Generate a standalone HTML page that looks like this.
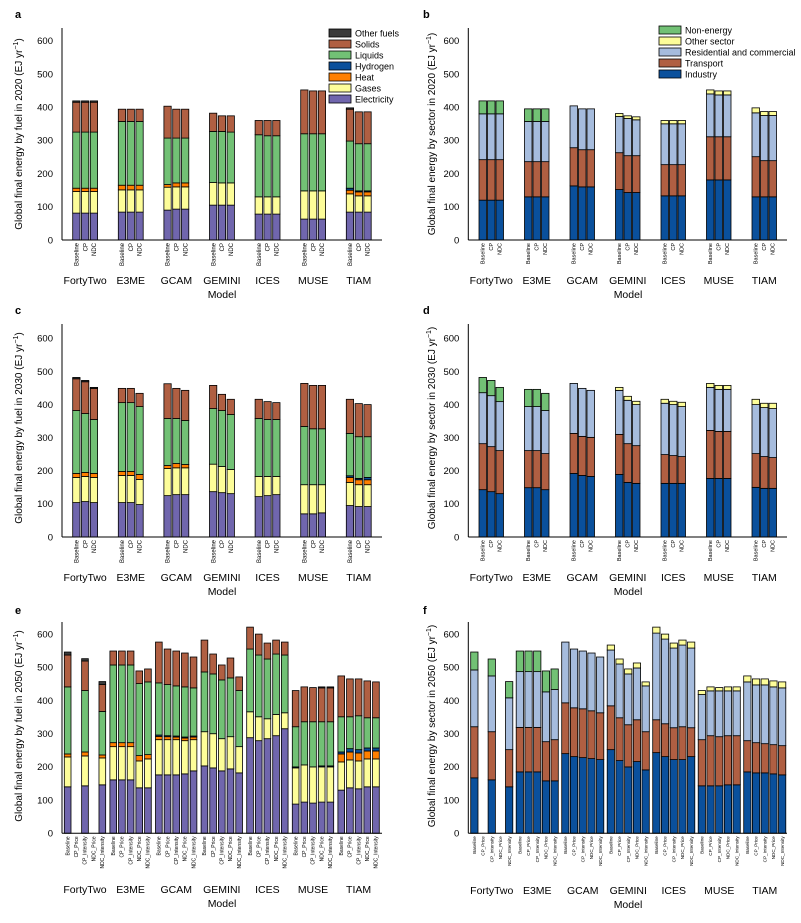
<!DOCTYPE html>
<html><head><meta charset="utf-8">
<style>
html,body{margin:0;padding:0;background:#fff;}
svg{display:block;font-family:"Liberation Sans",Arial,sans-serif;}
</style></head>
<body>
<svg id="chart" width="801" height="923" viewBox="0 0 801 923" xmlns="http://www.w3.org/2000/svg"></svg>
<script>
// ---------- DATA (cumulative stack tops in EJ/yr; null = segment absent) ----------
const models = ["FortyTwo","E3ME","GCAM","GEMINI","ICES","MUSE","TIAM"];
const scen3 = ["Baseline","CP","NDC"];
const scen5 = ["Baseline","CP_Price","CP_Intensity","NDC_Price","NDC_Intensity"];
const yTicks = [0,100,200,300,400,500,600];
const fuelNames = ["Electricity","Gases","Heat","Hydrogen","Liquids","Solids","Other fuels"];
const sectorNames = ["Industry","Transport","Residential and commercial","Other sector","Non-energy"];

// Panel a: fuel 2020
const aElec  = [81,81,81, 84,84,84, 90,93,93, 105,105,105, 78,78,78, 63,63,63, 84,84,84];
const aGas   = [146,146,146, 151,151,151, 159,160,160, 173,172,172, 130,130,130, 148,148,148, 139,133,133];
const aHeat  = [156,156,156, 165,165,165, 167,172,172, null,null,null, null,null,null, null,null,null, 150,145,145];
const aHyd   = [null,null,null, null,null,null, null,null,null, null,null,null, null,null,null, null,null,null, 156,148,148];
const aLiq   = [325,325,325, 357,357,357, 307,307,307, 327,327,325, 317,314,314, 320,320,320, 298,290,290];
const aSol   = [415,415,415, 394,394,394, 403,394,394, 382,374,374, 360,360,360, 452,449,449, 394,386,386];
const aOther = [419,419,419, null,null,null, null,null,null, null,null,null, null,null,null, null,null,null, 398,null,null];

// Panel b: sector 2020
const bInd   = [120,120,120, 130,130,130, 163,160,160, 152,143,143, 133,133,133, 181,181,181, 130,130,130];
const bTrans = [242,242,242, 236,236,236, 278,272,272, 263,254,254, 227,227,227, 311,311,311, 251,239,239];
const bRes   = [380,380,380, 357,357,357, 404,395,395, 372,366,362, 350,350,350, 440,437,437, 383,375,375];
const bOth   = [null,null,null, null,null,null, null,null,null, 381,374,371, 360,360,360, 452,449,449, 398,387,387];
const bNon   = [419,419,419, 395,395,395, null,null,null, null,null,null, null,null,null, null,null,null, null,null,null];

// Panel c: fuel 2030
const cElec  = [104,107,104, 104,104,98, 125,128,128, 137,134,131, 122,125,128, 70,70,73, 95,92,92];
const cGas   = [180,183,180, 186,186,174, 207,209,209, 220,213,204, 183,183,183, 158,158,158, 165,158,158];
const cHeat  = [192,195,192, 198,198,189, 216,222,219, null,null,null, null,null,null, null,null,null, 180,173,173];
const cHyd   = [null,null,null, null,null,null, null,null,null, null,null,null, null,null,null, null,null,null, 185,177,180];
const cLiq   = [382,373,355, 406,406,394, 358,358,352, 388,382,370, 358,355,355, 334,327,327, 313,303,303];
const cSol   = [478,469,449, 449,449,434, 463,449,443, 458,431,416, 416,409,406, 464,458,458, 416,403,400];
const cOther = [482,473,452, null,null,null, null,null,null, null,null,null, null,null,null, null,null,null, null,null,null];

// Panel d: sector 2030
const dInd   = [143,137,131, 149,149,143, 192,186,183, 189,165,162, 162,162,162, 177,177,177, 150,147,147];
const dTrans = [282,273,261, 261,261,252, 313,304,301, 310,282,276, 249,246,243, 322,319,319, 252,243,240];
const dRes   = [436,427,409, 394,394,382, 464,449,443, 443,413,400, 404,400,394, 452,446,446, 400,391,388];
const dOth   = [null,null,null, null,null,null, null,null,null, 452,425,410, 416,410,407, 464,458,458, 416,404,404];
const dNon   = [482,473,452, 446,446,434, null,null,null, null,null,null, null,null,null, null,null,null, null,null,null];

// Panel e: fuel 2050 (5 scenarios per model)
const eElec  = [140,null,143,null,146, 161,161,161,137,137, 176,176,176,179,188, 203,197,188,194,182, 288,279,285,294,315, 88,94,91,94,94, 130,137,134,140,140];
const eGas   = [230,null,233,null,227, 261,261,261,218,224, 282,282,282,279,282, 306,300,285,291,261, 366,351,345,358,363, 197,206,200,200,200, 215,221,218,224,224];
const eHeat  = [239,null,245,null,236, 273,273,273,234,237, 292,291,290,287,290, null,null,null,null,null, null,null,null,null,null, null,null,null,null,null, 239,245,242,248,248];
const eHyd   = [null,null,null,null,null, null,null,null,null,null, 296,294,293,290,293, null,null,null,null,null, null,null,null,null,null, 200,null,null,203,203, 245,255,252,257,257];
const eLiq   = [441,null,430,null,367, 507,507,507,451,456, 453,448,444,441,438, 486,480,462,468,430, 555,537,525,540,537, 321,336,336,336,336, 351,351,354,348,348];
const eSol   = [537,null,519,null,448, 549,549,549,489,495, 576,555,549,543,531, 582,540,507,528,471, 621,600,573,582,576, 430,441,439,438,438, 474,465,465,459,456];
const eOther = [546,null,526,null,457, null,null,null,null,null, null,null,null,null,null, null,null,null,null,null, null,null,null,null,null, null,null,null,441,441, null,null,null,null,null];

// Panel f: sector 2050
const fInd   = [167,null,161,null,140, 185,185,185,158,158, 240,231,228,225,222, 252,219,200,216,191, 243,231,222,222,231, 143,143,143,146,146, 185,182,182,179,176];
const fTrans = [321,null,306,null,252, 319,319,319,276,282, 393,378,375,369,363, 384,348,327,342,306, 342,330,318,321,318, 282,294,291,294,294, 279,273,270,267,264];
const fRes   = [492,null,474,null,408, 487,487,487,426,433, 576,555,549,543,531, 552,510,480,498,444, 603,585,558,567,558, 418,429,429,429,429, 456,447,447,441,438];
const fOth   = [null,null,null,null,null, null,null,null,null,null, null,null,null,null,null, 567,525,495,513,456, 621,600,573,582,576, 430,441,439,441,441, 474,465,465,459,456];
const fNon   = [546,null,525,null,457, 549,549,549,489,495, null,null,null,null,null, null,null,null,null,null, null,null,null,null,null, null,null,null,null,null, null,null,null,null,null];

const fuelColors = ["#7066ad","#fdfd99","#ff7f00","#0a509c","#72c175","#b05f42","#3a3a3a"];
const sectorColors = ["#0a509c","#b05f42","#a6bcdd","#fdfd99","#72c175"];

// ---------- DRAWING ----------
const NS = "http://www.w3.org/2000/svg";
const svg = document.getElementById("chart");
function el(tag, attrs, parent) {
  const e = document.createElementNS(NS, tag);
  for (const k in attrs) e.setAttribute(k, attrs[k]);
  (parent || svg).appendChild(e);
  return e;
}

function drawPanel(p) {
  const g = el("g", {});
  
  
  const yScale = v => p.zero - v * p.per100 / 100;
  const nS = p.scen.length;
  const xBar = i => p.gx0 + Math.floor(i / nS) * p.gStep + (i % nS) * p.bStep;

  // panel letter
  const lt = el("text", {x: p.letterX, y: p.letterY, "font-size": 11, "font-weight": "bold", fill: "#000"}, g);
  lt.textContent = p.letter;
  
  

  // bars
  const n = models.length * nS;
  for (let i = 0; i < n; i++) {
    let prev = 0;
    const x = xBar(i);
    for (let s = 0; s < p.series.length; s++) {
      const top = p.series[s][i];
      if (top === null || top === undefined) continue;
      const y1 = yScale(top), y0 = yScale(prev);
      if (y0 - y1 > 0) {
        const r = el("rect", {x: x, y: y1, width: p.bW, height: y0 - y1, fill: p.colors[s], stroke: "#000", "stroke-width": 0.8}, g);
        
        
      }
      prev = top;
    }
    // scenario label
    if (prev > 0 || true) {
      const cx = x + p.bW / 2 + p.scenFs * 0.35;
      const t = el("text", {x: cx, y: p.zero + 3, "font-size": p.scenFs, "text-anchor": "end", transform: `rotate(-90 ${cx} ${p.zero + 3})`, fill: "#000"}, g);
      t.textContent = p.scen[i % nS];
      
      
    }
  }

  // axes
  const ya = el("line", {x1: p.ax, y1: p.top, x2: p.ax, y2: p.zero, stroke: "#000", "stroke-width": 1}, g);
  
  
  const xa = el("line", {x1: p.ax, y1: p.zero, x2: p.axEnd, y2: p.zero, stroke: "#000", "stroke-width": 1}, g);
  
  

  // y ticks
  yTicks.forEach(v => {
    const t = el("text", {x: p.ax - 9, y: yScale(v) + 3.3, "font-size": 9.5, "text-anchor": "end", fill: "#000"}, g);
    t.textContent = v;
    
    
  });

  // model names
  models.forEach((m, k) => {
    const cx = p.gx0 + k * p.gStep + ((nS - 1) * p.bStep + p.bW) / 2;
    const t = el("text", {x: cx, y: p.modelY, "font-size": 10.5, "text-anchor": "middle", fill: "#000"}, g);
    t.textContent = m;
    
    
  });
  const xt = el("text", {x: p.modelCx, y: p.modelY + 14, "font-size": 10.5, "text-anchor": "middle", fill: "#000"}, g);
  xt.textContent = "Model";
  
  

  // y title
  const yt = el("text", {x: p.ytX, y: p.ytY, "font-size": 10, "text-anchor": "middle", transform: `rotate(-90 ${p.ytX} ${p.ytY})`, fill: "#000"}, g);
  
  
  yt.appendChild(document.createTextNode(p.ytitle + " (EJ yr"));
  const sup = el("tspan", {"font-size": 7, dy: -4}, yt);
  sup.textContent = "−1";
  const cl = el("tspan", {dy: 4}, yt);
  cl.textContent = ")";

  // legend
  if (p.legend) {
    const L = p.legend;
    const order = L.names.map((_, i) => i).reverse();
    order.forEach((si, r) => {
      const y = L.y + r * 11;
      const b = el("rect", {x: L.x, y: y, width: 22, height: 8, fill: p.colors[si], stroke: "#000", "stroke-width": 0.8}, g);
      
      
      const t = el("text", {x: L.x + 26, y: y + 7.5, "font-size": 9, fill: "#000"}, g);
      t.textContent = L.names[si];
      
      
    });
  }
}

const fuelYT = y => "Global final energy by fuel in " + y;
const secYT = y => "Global final energy by sector in " + y;

drawPanel({letter:"a", letterX:15, letterY:18, scen:scen3, series:[aElec,aGas,aHeat,aHyd,aLiq,aSol,aOther], colors:fuelColors,
  ax:62, axEnd:382, top:28, zero:240, per100:33.2, gx0:72.7, gStep:45.6, bStep:8.8, bW:7.3, scenFs:6,
  modelY:284, modelCx:222, ytX:22, ytY:134, ytitle:fuelYT(2020), legend:{x:329, y:29, names:fuelNames}});
drawPanel({letter:"b", letterX:423, letterY:18, scen:scen3, series:[bInd,bTrans,bRes,bOth,bNon], colors:sectorColors,
  ax:468.3, axEnd:787, top:28, zero:240, per100:33.2, gx0:479, gStep:45.5, bStep:8.5, bW:7.5, scenFs:5.5,
  modelY:284, modelCx:628, ytX:435, ytY:134, ytitle:secYT(2020), legend:{x:659, y:26, names:sectorNames}});
drawPanel({letter:"c", letterX:15, letterY:314, scen:scen3, series:[cElec,cGas,cHeat,cHyd,cLiq,cSol,cOther], colors:fuelColors,
  ax:62, axEnd:382, top:324, zero:537, per100:33.1, gx0:72.7, gStep:45.6, bStep:8.8, bW:7.3, scenFs:6,
  modelY:581, modelCx:222, ytX:22, ytY:428, ytitle:fuelYT(2030)});
drawPanel({letter:"d", letterX:423, letterY:314, scen:scen3, series:[dInd,dTrans,dRes,dOth,dNon], colors:sectorColors,
  ax:468.3, axEnd:787, top:324, zero:537, per100:33.1, gx0:479, gStep:45.5, bStep:8.5, bW:7.5, scenFs:5.5,
  modelY:581, modelCx:628, ytX:435, ytY:428, ytitle:secYT(2030)});
drawPanel({letter:"e", letterX:15, letterY:614, scen:scen5, series:[eElec,eGas,eHeat,eHyd,eLiq,eSol,eOther], colors:fuelColors,
  ax:62, axEnd:382, top:622, zero:833.3, per100:33.2, gx0:64.3, gStep:45.6, bStep:8.67, bW:6.7, scenFs:5,
  modelY:893, modelCx:222, ytX:22, ytY:726, ytitle:fuelYT(2050)});
drawPanel({letter:"f", letterX:423, letterY:614, scen:scen5, series:[fInd,fTrans,fRes,fOth,fNon], colors:sectorColors,
  ax:468.3, axEnd:787, top:622, zero:833.3, per100:33.2, gx0:470.7, gStep:45.5, bStep:8.7, bW:7.3, scenFs:4.6,
  modelY:894, modelCx:628, ytX:435, ytY:726, ytitle:secYT(2050)});
</script>
</body></html>
